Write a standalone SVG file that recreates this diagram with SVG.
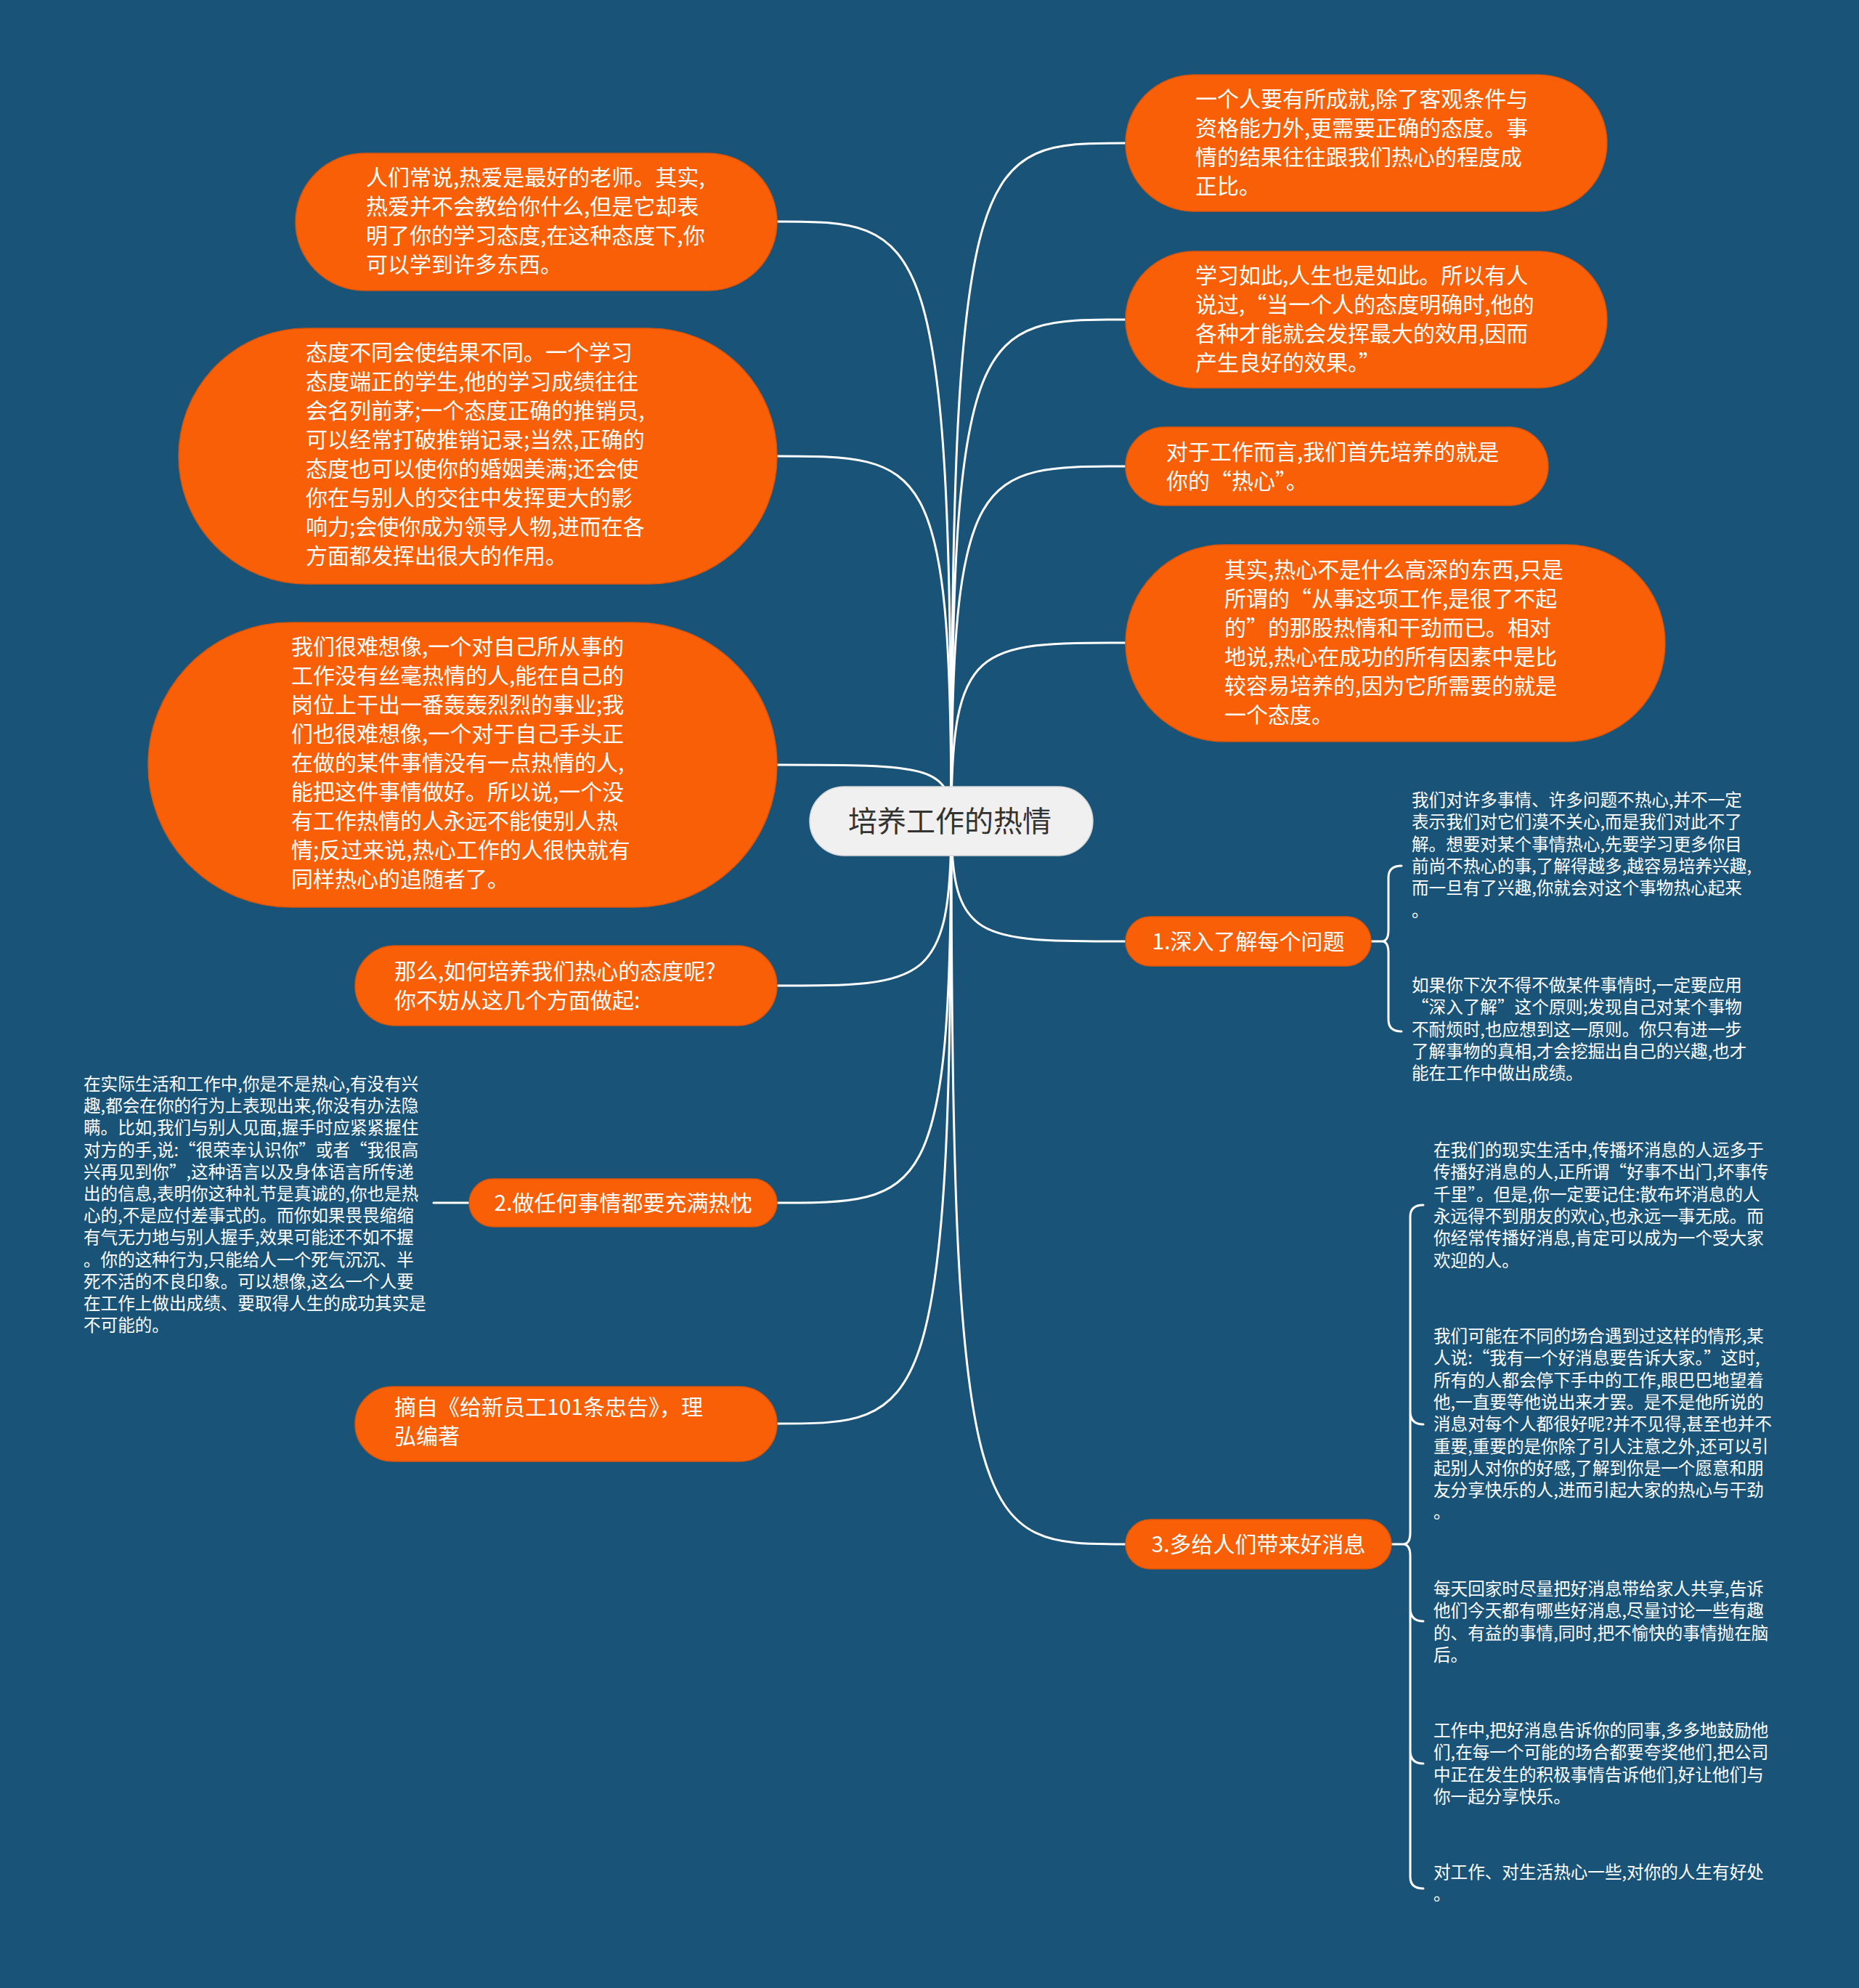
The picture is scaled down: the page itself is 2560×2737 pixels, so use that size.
<svg xmlns="http://www.w3.org/2000/svg" width="2560" height="2737" viewBox="0 0 2560 2737">
<style>
.n{fill:#f95f07;stroke:#d7560c;stroke-width:1.5}
.root{fill:#f0f0f0;stroke:#d8d8d8;stroke-width:1.5}
.t{font-family:"Noto Sans CJK SC","Noto Sans",sans-serif;fill:#ffffff;font-size:30px}
.s{font-size:23.6px}
.rt{font-family:"Noto Sans CJK SC","Noto Sans",sans-serif;fill:#333333;font-size:40px}
.c{fill:none;stroke:#ffffff;stroke-width:3;stroke-linecap:round}
</style>
<rect x="0" y="0" width="2560" height="2737" fill="#1a5378"/>
<g id="connectors">
<path class="c" d="M1310 1130 C1310 305 1274 305 1070 305"/>
<path class="c" d="M1310 1130 C1310 628 1274 628 1070 628"/>
<path class="c" d="M1310 1130 C1310 1053 1274 1053 1070 1053"/>
<path class="c" d="M1310 1130 C1310 1357 1274 1357 1070 1357"/>
<path class="c" d="M1310 1130 C1310 1656 1274 1656 1070 1656"/>
<path class="c" d="M1310 1130 C1310 1960 1274 1960 1070 1960"/>
<path class="c" d="M1310 1130 C1310 197 1346 197 1550 197"/>
<path class="c" d="M1310 1130 C1310 440 1346 440 1550 440"/>
<path class="c" d="M1310 1130 C1310 642 1346 642 1550 642"/>
<path class="c" d="M1310 1130 C1310 885 1346 885 1550 885"/>
<path class="c" d="M1310 1130 C1310 1296 1346 1296 1550 1296"/>
<path class="c" d="M1310 1130 C1310 2126 1346 2126 1550 2126"/>
<path class="c" d="M646 1656 L597 1656"/>
<path class="c" d="M1888 1296 L1903 1296 Q1912 1296 1912 1280 L1912 1208 Q1912 1192 1930 1192 M1903 1296 Q1912 1296 1912 1312 L1912 1404 Q1912 1420 1930 1420"/>
<path class="c" d="M1916 2126 L1932 2126 Q1942 2126 1942 2110 L1942 1675 Q1942 1659 1960 1659 M1932 2126 Q1942 2126 1942 2142 L1942 2584 Q1942 2600 1960 2600 M1942 1943 Q1942 1961 1960 1961 M1942 2214 Q1942 2232 1960 2232 M1942 2410 Q1942 2428 1960 2428"/>
</g>
<g id="root">
<rect class="root" x="1115" y="1083" width="390" height="95" rx="47.5"/>
<text class="rt" x="1308" y="1145" text-anchor="middle">培养工作的热情</text>
</g>
<g id="nodeA">
<rect class="n" x="407" y="211" width="663" height="189" rx="94.5"/>
<text class="t"><tspan x="504" y="255">人们常说,热爱是最好的老师。其实,</tspan><tspan x="504" y="295">热爱并不会教给你什么,但是它却表</tspan><tspan x="504" y="335">明了你的学习态度,在这种态度下,你</tspan><tspan x="504" y="375">可以学到许多东西。</tspan></text>
</g>
<g id="nodeB">
<rect class="n" x="246" y="452" width="824" height="352" rx="176"/>
<text class="t"><tspan x="421" y="496">态度不同会使结果不同。一个学习</tspan><tspan x="421" y="536">态度端正的学生,他的学习成绩往往</tspan><tspan x="421" y="576">会名列前茅;一个态度正确的推销员,</tspan><tspan x="421" y="616">可以经常打破推销记录;当然,正确的</tspan><tspan x="421" y="656">态度也可以使你的婚姻美满;还会使</tspan><tspan x="421" y="696">你在与别人的交往中发挥更大的影</tspan><tspan x="421" y="736">响力;会使你成为领导人物,进而在各</tspan><tspan x="421" y="776">方面都发挥出很大的作用。</tspan></text>
</g>
<g id="nodeC">
<rect class="n" x="204" y="857" width="866" height="392" rx="196"/>
<text class="t"><tspan x="401" y="901">我们很难想像,一个对自己所从事的</tspan><tspan x="401" y="941">工作没有丝毫热情的人,能在自己的</tspan><tspan x="401" y="981">岗位上干出一番轰轰烈烈的事业;我</tspan><tspan x="401" y="1021">们也很难想像,一个对于自己手头正</tspan><tspan x="401" y="1061">在做的某件事情没有一点热情的人,</tspan><tspan x="401" y="1101">能把这件事情做好。所以说,一个没</tspan><tspan x="401" y="1141">有工作热情的人永远不能使别人热</tspan><tspan x="401" y="1181">情;反过来说,热心工作的人很快就有</tspan><tspan x="401" y="1221">同样热心的追随者了。</tspan></text>
</g>
<g id="nodeD">
<rect class="n" x="489" y="1302" width="581" height="110" rx="55"/>
<text class="t"><tspan x="543" y="1348">那么,如何培养我们热心的态度呢?</tspan><tspan x="543" y="1388">你不妨从这几个方面做起:</tspan></text>
</g>
<g id="nodeE">
<rect class="n" x="646" y="1623" width="424" height="66" rx="33"/>
<text class="t" x="858" y="1667" text-anchor="middle">2.做任何事情都要充满热忱</text>
</g>
<g id="nodeE1">
<text class="t s"><tspan x="115" y="1501">在实际生活和工作中,你是不是热心,有没有兴</tspan><tspan x="115" y="1531">趣,都会在你的行为上表现出来,你没有办法隐</tspan><tspan x="115" y="1561">瞒。比如,我们与别人见面,握手时应紧紧握住</tspan><tspan x="115" y="1592">对方的手,说:“很荣幸认识你”或者“我很高</tspan><tspan x="115" y="1622">兴再见到你”,这种语言以及身体语言所传递</tspan><tspan x="115" y="1652">出的信息,表明你这种礼节是真诚的,你也是热</tspan><tspan x="115" y="1682">心的,不是应付差事式的。而你如果畏畏缩缩</tspan><tspan x="115" y="1712">有气无力地与别人握手,效果可能还不如不握</tspan><tspan x="115" y="1743">。你的这种行为,只能给人一个死气沉沉、半</tspan><tspan x="115" y="1773">死不活的不良印象。可以想像,这么一个人要</tspan><tspan x="115" y="1803">在工作上做出成绩、要取得人生的成功其实是</tspan><tspan x="115" y="1833">不可能的。</tspan></text>
</g>
<g id="nodeF">
<rect class="n" x="489" y="1909" width="581" height="103" rx="51.5"/>
<text class="t"><tspan x="543" y="1948">摘自《给新员工101条忠告》，理</tspan><tspan x="543" y="1988">弘编著</tspan></text>
</g>
<g id="nodeG">
<rect class="n" x="1550" y="103" width="663" height="188" rx="94"/>
<text class="t"><tspan x="1646" y="147">一个人要有所成就,除了客观条件与</tspan><tspan x="1646" y="187">资格能力外,更需要正确的态度。事</tspan><tspan x="1646" y="227">情的结果往往跟我们热心的程度成</tspan><tspan x="1646" y="267">正比。</tspan></text>
</g>
<g id="nodeH">
<rect class="n" x="1550" y="346" width="663" height="188" rx="94"/>
<text class="t"><tspan x="1646" y="390">学习如此,人生也是如此。所以有人</tspan><tspan x="1646" y="430">说过,“当一个人的态度明确时,他的</tspan><tspan x="1646" y="470">各种才能就会发挥最大的效用,因而</tspan><tspan x="1646" y="510">产生良好的效果。”</tspan></text>
</g>
<g id="nodeI">
<rect class="n" x="1550" y="588" width="582" height="108" rx="54"/>
<text class="t"><tspan x="1606" y="633">对于工作而言,我们首先培养的就是</tspan><tspan x="1606" y="673">你的“热心”。</tspan></text>
</g>
<g id="nodeJ">
<rect class="n" x="1550" y="750" width="743" height="271" rx="135.5"/>
<text class="t"><tspan x="1686" y="795">其实,热心不是什么高深的东西,只是</tspan><tspan x="1686" y="835">所谓的“从事这项工作,是很了不起</tspan><tspan x="1686" y="875">的”的那股热情和干劲而已。相对</tspan><tspan x="1686" y="915">地说,热心在成功的所有因素中是比</tspan><tspan x="1686" y="955">较容易培养的,因为它所需要的就是</tspan><tspan x="1686" y="995">一个态度。</tspan></text>
</g>
<g id="nodeK">
<rect class="n" x="1550" y="1262" width="338" height="68" rx="34"/>
<text class="t" x="1719" y="1307" text-anchor="middle">1.深入了解每个问题</text>
</g>
<g id="nodeK1">
<text class="t s"><tspan x="1944" y="1110">我们对许多事情、许多问题不热心,并不一定</tspan><tspan x="1944" y="1140">表示我们对它们漠不关心,而是我们对此不了</tspan><tspan x="1944" y="1171">解。想要对某个事情热心,先要学习更多你目</tspan><tspan x="1944" y="1201">前尚不热心的事,了解得越多,越容易培养兴趣,</tspan><tspan x="1944" y="1231">而一旦有了兴趣,你就会对这个事物热心起来</tspan><tspan x="1944" y="1262">。</tspan></text>
</g>
<g id="nodeK2">
<text class="t s"><tspan x="1944" y="1365">如果你下次不得不做某件事情时,一定要应用</tspan><tspan x="1944" y="1395">“深入了解”这个原则;发现自己对某个事物</tspan><tspan x="1944" y="1426">不耐烦时,也应想到这一原则。你只有进一步</tspan><tspan x="1944" y="1456">了解事物的真相,才会挖掘出自己的兴趣,也才</tspan><tspan x="1944" y="1486">能在工作中做出成绩。</tspan></text>
</g>
<g id="nodeL">
<rect class="n" x="1550" y="2092" width="366" height="68" rx="34"/>
<text class="t" x="1733" y="2137" text-anchor="middle">3.多给人们带来好消息</text>
</g>
<g id="nodeL1">
<text class="t s"><tspan x="1974" y="1592">在我们的现实生活中,传播坏消息的人远多于</tspan><tspan x="1974" y="1622">传播好消息的人,正所谓“好事不出门,坏事传</tspan><tspan x="1974" y="1653">千里”。但是,你一定要记住:散布坏消息的人</tspan><tspan x="1974" y="1683">永远得不到朋友的欢心,也永远一事无成。而</tspan><tspan x="1974" y="1713">你经常传播好消息,肯定可以成为一个受大家</tspan><tspan x="1974" y="1744">欢迎的人。</tspan></text>
</g>
<g id="nodeL2">
<text class="t s"><tspan x="1974" y="1848">我们可能在不同的场合遇到过这样的情形,某</tspan><tspan x="1974" y="1878">人说:“我有一个好消息要告诉大家。”这时,</tspan><tspan x="1974" y="1909">所有的人都会停下手中的工作,眼巴巴地望着</tspan><tspan x="1974" y="1939">他,一直要等他说出来才罢。是不是他所说的</tspan><tspan x="1974" y="1969">消息对每个人都很好呢?并不见得,甚至也并不</tspan><tspan x="1974" y="2000">重要,重要的是你除了引人注意之外,还可以引</tspan><tspan x="1974" y="2030">起别人对你的好感,了解到你是一个愿意和朋</tspan><tspan x="1974" y="2060">友分享快乐的人,进而引起大家的热心与干劲</tspan><tspan x="1974" y="2090">。</tspan></text>
</g>
<g id="nodeL3">
<text class="t s"><tspan x="1974" y="2196">每天回家时尽量把好消息带给家人共享,告诉</tspan><tspan x="1974" y="2226">他们今天都有哪些好消息,尽量讨论一些有趣</tspan><tspan x="1974" y="2257">的、有益的事情,同时,把不愉快的事情抛在脑</tspan><tspan x="1974" y="2287">后。</tspan></text>
</g>
<g id="nodeL4">
<text class="t s"><tspan x="1974" y="2391">工作中,把好消息告诉你的同事,多多地鼓励他</tspan><tspan x="1974" y="2421">们,在每一个可能的场合都要夸奖他们,把公司</tspan><tspan x="1974" y="2452">中正在发生的积极事情告诉他们,好让他们与</tspan><tspan x="1974" y="2482">你一起分享快乐。</tspan></text>
</g>
<g id="nodeL5">
<text class="t s"><tspan x="1974" y="2586">对工作、对生活热心一些,对你的人生有好处</tspan><tspan x="1974" y="2616">。</tspan></text>
</g>
</svg>
